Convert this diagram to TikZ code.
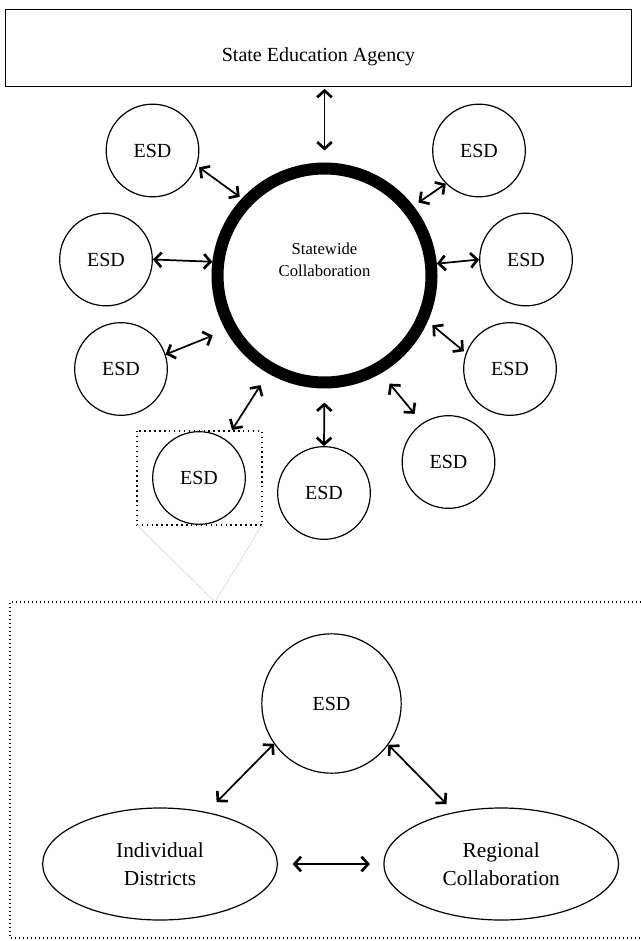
\documentclass[tikz,border=0pt]{standalone}
\usepackage{fontspec}
\setmainfont{Liberation Serif}
\usetikzlibrary{arrows.meta,shapes.geometric,positioning}

\begin{document}
\begin{tikzpicture}[x=0.75pt,y=-0.75pt,
    esd/.style={draw, circle, line width=0.9pt, minimum size=69.5pt, inner sep=0pt, font=\fontsize{15}{17}\selectfont},
    blob/.style={draw, ellipse, line width=0.9pt, minimum width=176pt, minimum height=84pt, align=center, font=\fontsize{16}{21}\selectfont},
    link/.style={{Straight Barb[length=5pt,width=11pt,line width=2pt]}-{Straight Barb[length=5pt,width=11pt,line width=2pt]}, line width=1.3pt},
    zoomline/.style={line width=1.1pt, dash pattern=on 1.1pt off 2.6pt}]
    \useasboundingbox (0,0) rectangle (641,941);

    % top of the picture
    \node[draw, line width=0.75pt, minimum width=470pt, minimum height=57.75pt, text height=25pt, text depth=5pt,
          font=\fontsize{15}{18}\selectfont] (agency) at (318.5,48.5) {State Education Agency};
    \node[draw, circle, line width=9pt, minimum size=160.5pt, inner sep=0pt] (hub) at (324.5,275.5) {};
    \node[align=center, font=\fontsize{12.5}{16.5}\selectfont] (hubtext) at (324.5,260) {Statewide\\Collaboration};

    \node[esd] (e1) at (152.5,150.5) {ESD};
    \node[esd] (e2) at (479,150.5) {ESD};
    \node[esd] (e3) at (106,259.5) {ESD};
    \node[esd] (e4) at (526,259.5) {ESD};
    \node[esd] (e5) at (121,369) {ESD};
    \node[esd] (e6) at (510,369) {ESD};
    \node[esd] (e7) at (199,478) {ESD};
    \node[esd] (e8) at (324,493) {ESD};
    \node[esd] (e9) at (448.5,462) {ESD};

    \draw[link, shorten <=1pt, shorten >=9pt] (hub.north |- agency.south) -- (hub.north);
    \draw[link, shorten <=2pt, shorten >=2pt] (e1.-19) -- (hub.137);
    \draw[link, shorten >=4.5pt] (e2.-135) -- (hub.38);
    \draw[link] (e3.east) -- (hub.173);
    \draw[link] (e4.west) -- (hub.6);
    \draw[link, shorten >=10.5pt] (e5.18) -- (hub.209);
    \draw[link, shorten <=2pt, shorten >=4.5pt] (e6.160) -- (hub.-24);
    \draw[link, shorten <=8.5pt, shorten >=10.5pt] (e7.55) -- (hub.240);
    \draw[link, shorten >=10.5pt] (e8.north) -- (hub.south);
    \draw[link, shorten <=9pt, shorten >=10pt] (e9.124) -- (hub.-60);

    % zoom onto one ESD
    \draw[zoomline] (137,431) rectangle (262,525);
    \draw[gray!35, line width=0.4pt] (137,525) -- (215,602) -- (262,525);
    \draw[line width=0.8pt, dash pattern=on 0.8pt off 2.2pt] (641,602) -- (10,602) -- (10,938) -- (641,938);

    % bottom of the picture
    \node[esd, minimum size=104.5pt] (esdlow) at (331.5,703.5) {ESD};
    \node[blob] (ind) at (160,864) {Individual\\Districts};
    \node[blob, right=79pt of ind] (reg) {Regional\\Collaboration};

    \draw[link, shorten >=10.5pt] (esdlow.215) -- (ind.48);
    \draw[link, shorten >=8.5pt] (esdlow.-36) -- (reg.132);
    \draw[link, shorten <=11pt, shorten >=10pt] (ind.east) -- (reg.west);
\end{tikzpicture}
\end{document}
